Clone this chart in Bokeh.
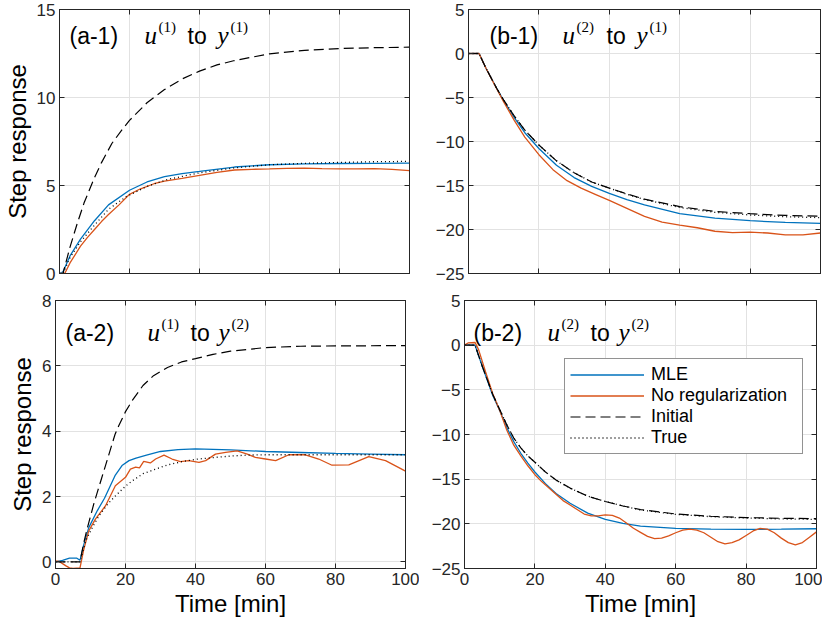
from bokeh.plotting import figure
from bokeh.models import Range1d, FixedTicker, LinearAxis, Label, Legend, LegendItem
from bokeh.layouts import column, row
from bokeh.embed import file_html
from bokeh.resources import INLINE

# ---------------- data ----------------
x_ticks = [0, 20, 40, 60, 80, 100]

# (a-1) u(1) -> y(1)
t_a1_init = [0, 1, 3, 5, 7, 10, 12, 15, 18, 20, 25, 30, 35, 40, 45, 50, 60, 70, 80, 90, 100]
a1_init = [0, 0, 1.5, 2.8, 4.0, 5.45, 6.3, 7.4, 8.2, 8.7, 9.7, 10.45, 11.05, 11.5, 11.85, 12.1,
           12.48, 12.68, 12.78, 12.83, 12.86]
t_a1_mle = [0, 1, 3, 6, 10, 14, 20, 25, 30, 35, 40, 50, 60, 70, 80, 90, 100]
a1_mle = [0, 0.1, 1.0, 1.95, 3.0, 3.9, 4.73, 5.2, 5.5, 5.68, 5.8, 6.05, 6.18, 6.23, 6.25, 6.26, 6.27]
t_a1_noreg = [0, 1.5, 3, 6, 8, 10, 12, 14, 17, 20, 23, 27, 30, 35, 40, 45, 50, 55, 60, 65, 70,
              75, 80, 85, 90, 95, 100]
a1_noreg = [0, 0, 0.6, 1.55, 2.05, 2.5, 2.95, 3.35, 3.9, 4.5, 4.8, 5.1, 5.25, 5.4, 5.57, 5.75,
            5.88, 5.92, 5.94, 5.97, 5.99, 5.96, 5.94, 5.95, 5.96, 5.92, 5.85]
t_a1_true = [0, 1, 3, 6, 10, 14, 19, 25, 31, 40, 50, 60, 70, 80, 90, 100]
a1_true = [0, 0, 0.9, 1.8, 2.75, 3.65, 4.36, 4.95, 5.35, 5.72, 6.0, 6.18, 6.26, 6.31, 6.35, 6.37]

# (b-1) u(2) -> y(1)
t_b1 = [0, 3, 5, 8, 10, 13, 16, 20, 25, 30, 35, 40, 45, 50, 60, 70, 80, 90, 100]
b1_init = [0, 0, -1.7, -3.95, -5.3, -7.1, -8.7, -10.4, -12.2, -13.55, -14.6, -15.3, -15.95,
           -16.55, -17.4, -17.95, -18.2, -18.4, -18.5]
b1_true = [0, 0, -1.7, -3.95, -5.3, -7.1, -8.7, -10.4, -12.2, -13.55, -14.6, -15.3, -16.0,
           -16.6, -17.5, -18.05, -18.35, -18.55, -18.65]
b1_mle = [0, 0, -1.7, -3.95, -5.35, -7.3, -9.0, -10.8, -12.7, -14.1, -15.1, -15.9, -16.6,
          -17.2, -18.2, -18.7, -19.0, -19.2, -19.3]
t_b1_noreg = [0, 3, 5, 8, 10, 13, 16, 20, 24, 28, 32, 36, 40, 45, 50, 55, 60, 65, 70, 75, 80,
              85, 90, 95, 100]
b1_noreg = [0, 0, -1.7, -4.0, -5.5, -7.6, -9.5, -11.5, -13.2, -14.45, -15.3, -16.0, -16.7,
            -17.6, -18.5, -19.15, -19.5, -19.8, -20.2, -20.35, -20.3, -20.4, -20.6, -20.6, -20.4]

# (a-2) u(1) -> y(2)
t_a2_init = [0, 7, 8, 9, 10, 11, 12, 13, 14, 15, 16, 17, 18, 20, 22, 25, 28, 32, 36, 40, 45,
             50, 60, 70, 80, 100]
a2_init = [0, 0, 0.55, 1.0, 1.4, 1.8, 2.15, 2.5, 2.85, 3.2, 3.55, 3.9, 4.15, 4.6, 4.95, 5.4,
           5.7, 5.95, 6.12, 6.22, 6.35, 6.45, 6.56, 6.6, 6.61, 6.62]
t_a2_mle = [0, 2, 4, 6, 7, 8, 9.5, 12, 14, 17, 19, 21, 23, 26, 30, 35, 40, 50, 60, 70, 80, 90, 100]
a2_mle = [0, 0.05, 0.12, 0.12, 0.05, 0.5, 1.05, 1.58, 1.95, 2.64, 2.95, 3.1, 3.18, 3.27, 3.38,
          3.44, 3.46, 3.43, 3.38, 3.35, 3.32, 3.3, 3.28]
t_a2_noreg = [0, 1, 2, 3, 4, 5, 7, 8, 9.5, 11.4, 14.3, 17.1, 20, 21.4, 22.9, 24, 25.2, 27.1,
              28.6, 31, 33.3, 35.7, 38.1, 41, 42.9, 45.7, 48.6, 51.9, 54.8, 57.1, 60, 62.9,
              66.7, 71.4, 75.2, 79, 83.8, 89.5, 94.3, 100]
a2_noreg = [0.03, 0.02, -0.05, -0.12, -0.18, -0.2, -0.18, 0.35, 0.95, 1.31, 1.72, 2.33, 2.59,
            2.84, 2.9, 2.88, 3.08, 3.03, 3.15, 3.27, 3.15, 3.07, 3.1, 3.05, 3.1, 3.3, 3.35, 3.4,
            3.3, 3.2, 3.15, 3.1, 3.28, 3.28, 3.15, 2.96, 2.97, 3.22, 3.1, 2.78]
t_a2_true = [0, 7, 8.6, 10.5, 12.4, 15, 17.1, 20, 21.9, 25, 28.6, 32, 36.2, 40, 45.7, 50, 55,
             60, 66.7, 80, 100]
a2_true = [0, 0, 0.64, 1.05, 1.41, 1.78, 2.02, 2.32, 2.48, 2.7, 2.84, 2.97, 3.07, 3.14, 3.2,
           3.24, 3.27, 3.28, 3.28, 3.28, 3.28]

# (b-2) u(2) -> y(2)
t_b2 = [0, 3, 5, 8, 10, 12, 14, 16, 18, 20, 23, 26, 30, 35, 40, 45, 50, 60, 70, 80, 90, 100]
b2_mle = [0, 0, -2.3, -5.6, -7.3, -9.2, -10.8, -12.1, -13.2, -14.2, -15.5, -16.6, -17.7, -18.8,
          -19.5, -19.95, -20.25, -20.5, -20.6, -20.62, -20.6, -20.55]
b2_init = [0, 0, -2.3, -5.5, -7.2, -8.9, -10.4, -11.5, -12.4, -13.1, -14.2, -15.1, -16.0, -16.9,
           -17.5, -18.0, -18.4, -18.9, -19.15, -19.3, -19.38, -19.42]
b2_true = [0, 0, -2.3, -5.5, -7.2, -8.9, -10.4, -11.5, -12.4, -13.1, -14.2, -15.1, -16.0, -16.9,
           -17.5, -18.0, -18.45, -18.95, -19.2, -19.35, -19.45, -19.5]
t_b2_noreg = [0, 1, 3, 4, 6, 8, 10, 12, 14, 16, 18, 20, 22, 24, 26, 28, 30, 32, 34, 36, 38, 40,
              42, 44, 46, 48, 50, 52, 54, 56, 58, 60, 62, 64, 66, 68, 70, 72, 74, 76, 78, 80,
              82, 84, 86, 88, 90, 92, 94, 96, 98, 100]
b2_noreg = [0, 0.25, 0.3, -0.5, -3.0, -5.4, -7.3, -9.5, -11.2, -12.4, -13.5, -14.5, -15.3, -16.0,
            -16.7, -17.4, -17.9, -18.4, -18.9, -19.1, -19.1, -19.0, -19.05, -19.35, -19.9, -20.5,
            -20.95, -21.4, -21.65, -21.6, -21.35, -21.0, -20.7, -20.6, -20.7, -21.0, -21.5, -22.0,
            -22.25, -22.1, -21.8, -21.3, -20.8, -20.5, -20.6, -21.0, -21.6, -22.1, -22.35, -22.1,
            -21.5, -20.9]

legend_labels = ["MLE", "No regularization", "Initial", "True"]

# ---------------- styling ----------------
SANS = "Liberation Sans"
SERIF = "Liberation Serif"
AXC = "#262626"
BLUE = "#0072BD"
ORANGE = "#D95319"
GRIDC = "#e2e2e2"


def minus(v):
    s = str(int(v)) if float(v).is_integer() else str(v)
    return s.replace("-", "\u2212")


def style_axis(ax, ticks, show_labels):
    ax.ticker = FixedTicker(ticks=ticks)
    ax.major_tick_in = 5
    ax.major_tick_out = 0
    ax.minor_tick_line_color = None
    ax.axis_line_color = AXC
    ax.major_tick_line_color = AXC
    ax.major_label_text_font = SANS
    if show_labels:
        ax.major_label_text_color = AXC
        ax.major_label_text_font_size = "17px"
        ax.major_label_standoff = 4
        ax.major_label_overrides = {t: minus(t) for t in ticks}
    else:
        ax.major_label_text_color = None
        ax.major_label_text_font_size = "1px"
        ax.major_label_standoff = 0
        ax.major_label_overrides = {t: "" for t in ticks}


def style_label(ax, text, standoff):
    ax.axis_label = text
    ax.axis_label_text_font = SANS
    ax.axis_label_text_font_size = "24px"
    ax.axis_label_text_font_style = "normal"
    ax.axis_label_text_color = "black"
    ax.axis_label_standoff = standoff


def panel(fw, fh, ylim, yticks, show_x, ylabel, left, right, top, bottom):
    p = figure(frame_width=fw, frame_height=fh, x_range=Range1d(0, 100),
               y_range=Range1d(*ylim), output_backend="svg", toolbar_location=None,
               min_border_left=left, min_border_right=right, min_border_top=top,
               min_border_bottom=bottom)
    p.outline_line_color = AXC
    p.outline_line_width = 1
    p.background_fill_color = "white"
    p.border_fill_color = "white"
    ax_b = p.xaxis[0]
    ax_l = p.yaxis[0]
    style_axis(ax_b, x_ticks, show_x)
    style_axis(ax_l, yticks, True)
    p.xgrid.ticker = FixedTicker(ticks=x_ticks)
    p.ygrid.ticker = FixedTicker(ticks=yticks)
    p.grid.grid_line_color = GRIDC
    p.grid.grid_line_width = 1
    ax_r = LinearAxis()
    style_axis(ax_r, yticks, False)
    p.add_layout(ax_r, "right")
    ax_t = LinearAxis()
    style_axis(ax_t, x_ticks, False)
    p.add_layout(ax_t, "above")
    if show_x:
        style_label(ax_b, "Time [min]", 2)
    if ylabel:
        style_label(ax_l, ylabel, 3)
    return p


def add_title(p, fw, fh, ylim, base_px, items):
    ppu = fh / (ylim[1] - ylim[0])
    for text, px, font, size, style, dy in items:
        p.add_layout(Label(x=px / (fw / 100.0), y=ylim[1] - (base_px - dy) / ppu, text=text,
                           text_font=font, text_font_size=size, text_font_style=style,
                           text_color="black", text_baseline="alphabetic", text_align="left"))


def title_items(tag, a, b, xs):
    return [(tag, xs[0], SANS, "23px", "normal", 0),
            ("u", xs[1], SERIF, "25px", "italic", 0),
            ("(%s)" % a, xs[1] + 14, SERIF, "15px", "normal", 9),
            ("to", xs[2], SANS, "23px", "normal", 0),
            ("y", xs[3], SERIF, "25px", "italic", 0),
            ("(%s)" % b, xs[3] + 13, SERIF, "15px", "normal", 9)]


def draw(p, tm, m, tn, n, ti, i, tt, t):
    r1 = p.line(tm, m, line_color=BLUE, line_width=1.3)
    r2 = p.line(tn, n, line_color=ORANGE, line_width=1.3)
    r3 = p.line(ti, i, line_color="black", line_width=1.2, line_dash="10 5")
    r4 = p.line(tt, t, line_color="black", line_width=1.3, line_dash="1 3")
    return [r1, r2, r3, r4]


ylim_a1, yt_a1 = (0, 15), [0, 5, 10, 15]
ylim_b, yt_b = (-25, 5), [-25, -20, -15, -10, -5, 0, 5]
ylim_a2, yt_a2 = (-0.2, 8), [0, 2, 4, 6, 8]
FWA, FWB = 350, 352
FH1, FH2 = 264, 268

p1 = panel(FWA, FH1, ylim_a1, yt_a1, False, "Step response", 55, 14, 9, 13)
draw(p1, t_a1_mle, a1_mle, t_a1_noreg, a1_noreg, t_a1_init, a1_init, t_a1_true, a1_true)
add_title(p1, FWA, FH1, ylim_a1, 26, title_items("(a-1)", 1, 1, [10, 85, 128, 158]))

p2 = panel(FWB, FH1, ylim_b, yt_b, False, None, 45, 6, 9, 13)
draw(p2, t_b1, b1_mle, t_b1_noreg, b1_noreg, t_b1, b1_init, t_b1, b1_true)
add_title(p2, FWB, FH1, ylim_b, 26, title_items("(b-1)", 2, 1, [21, 94, 138, 168]))

p3 = panel(FWA, FH2, ylim_a2, yt_a2, True, "Step response", 55, 14, 14, 54)
draw(p3, t_a2_mle, a2_mle, t_a2_noreg, a2_noreg, t_a2_init, a2_init, t_a2_true, a2_true)
add_title(p3, FWA, FH2, ylim_a2, 32, title_items("(a-2)", 1, 2, [10, 92, 135, 163]))

p4 = panel(FWB, FH2, ylim_b, yt_b, True, None, 45, 6, 14, 54)
rs = draw(p4, t_b2, b2_mle, t_b2_noreg, b2_noreg, t_b2, b2_init, t_b2, b2_true)
add_title(p4, FWB, FH2, ylim_b, 32, title_items("(b-2)", 2, 2, [9, 83, 126, 154]))

legend = Legend(items=[LegendItem(label=lab, renderers=[r]) for lab, r in zip(legend_labels, rs)],
                location=(100, 114), margin=0, padding=5, spacing=0,
                glyph_width=74, glyph_height=21, label_standoff=7, label_height=21,
                label_width=146,
                label_text_font=SANS, label_text_font_size="18px", label_text_color="black",
                border_line_color=AXC, border_line_width=1, background_fill_color="white",
                background_fill_alpha=1.0)
p4.add_layout(legend)

layout = column(row(p1, p2), row(p3, p4))
open("out.html", "w").write(file_html(layout, INLINE))
